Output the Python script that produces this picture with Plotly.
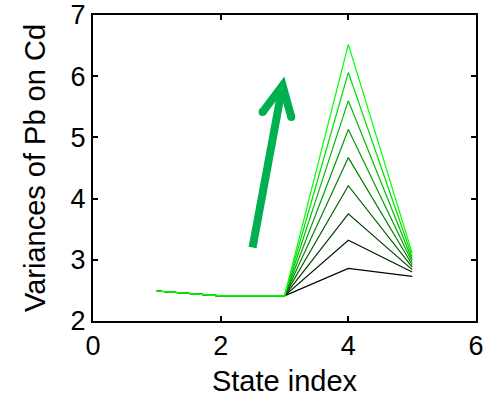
import plotly.graph_objects as go

# State indices and variance curves (one curve per parameter step)
state_index = [1, 2, 3, 4, 5]
start_values = [2.49, 2.41, 2.41]
peak_values = [2.86, 3.32, 3.75, 4.21, 4.67, 5.13, 5.60, 6.06, 6.52]
end_values = [2.73, 2.80, 2.84, 2.88, 2.92, 2.96, 3.00, 3.05, 3.11]

# Trend arrow (data coordinates of tail and tip)
arrow_tail = (2.50, 3.20)
arrow_tip = (2.97, 5.85)
arrow_color = "#00B050"

FONT = "Arial, Liberation Sans, sans-serif"

fig = go.Figure()

n = len(peak_values)
for k in range(n):
    g = round(255 * k / (n - 1))
    y = start_values + [peak_values[k], end_values[k]]
    fig.add_trace(go.Scatter(
        x=state_index, y=y, mode="lines",
        line=dict(color=f"rgb(0,{g},0)", width=1.2),
        showlegend=False, hoverinfo="skip",
    ))

# Arrow shaft
fig.add_shape(type="line", xref="x", yref="y",
              x0=arrow_tail[0], y0=arrow_tail[1], x1=arrow_tip[0], y1=arrow_tip[1],
              line=dict(color=arrow_color, width=8))
# Arrow head (chevron in pixels relative to the tip)
fig.add_shape(type="path", xref="x", yref="y",
              xsizemode="pixel", ysizemode="pixel",
              xanchor=arrow_tip[0], yanchor=arrow_tip[1],
              path="M-20,-26.7 L0,0 L8.7,-31.7",
              line=dict(color=arrow_color, width=8))
for px, py in [(-20, -26.7), (8.7, -31.7)]:
    fig.add_shape(type="circle", xref="x", yref="y",
                  xsizemode="pixel", ysizemode="pixel",
                  xanchor=arrow_tip[0], yanchor=arrow_tip[1],
                  x0=px - 4, x1=px + 4, y0=py - 4, y1=py + 4,
                  fillcolor=arrow_color, line=dict(width=0))

axis_common = dict(
    showline=True, linecolor="black", linewidth=2, mirror="ticks",
    ticks="inside", ticklen=5, tickwidth=1.5, tickcolor="black",
    showgrid=False, zeroline=False, ticklabeloverflow="allow",
    tickfont=dict(family=FONT, size=27, color="black"),
)

fig.update_xaxes(range=[0, 6], tickvals=[0, 2, 4, 6],
                 title=dict(text="State index", font=dict(family=FONT, size=29, color="black"),
                            standoff=10),
                 **axis_common)
fig.update_yaxes(range=[2, 7], tickvals=[2, 3, 4, 5, 6, 7],
                 title=dict(text="Variances of Pb on Cd", font=dict(family=FONT, size=29, color="black"),
                            standoff=16),
                 **axis_common)

fig.update_layout(
    width=498, height=402,
    margin=dict(l=93, r=22, t=15, b=81, autoexpand=False),
    paper_bgcolor="white", plot_bgcolor="white",
)

fig.write_html("out.html")
